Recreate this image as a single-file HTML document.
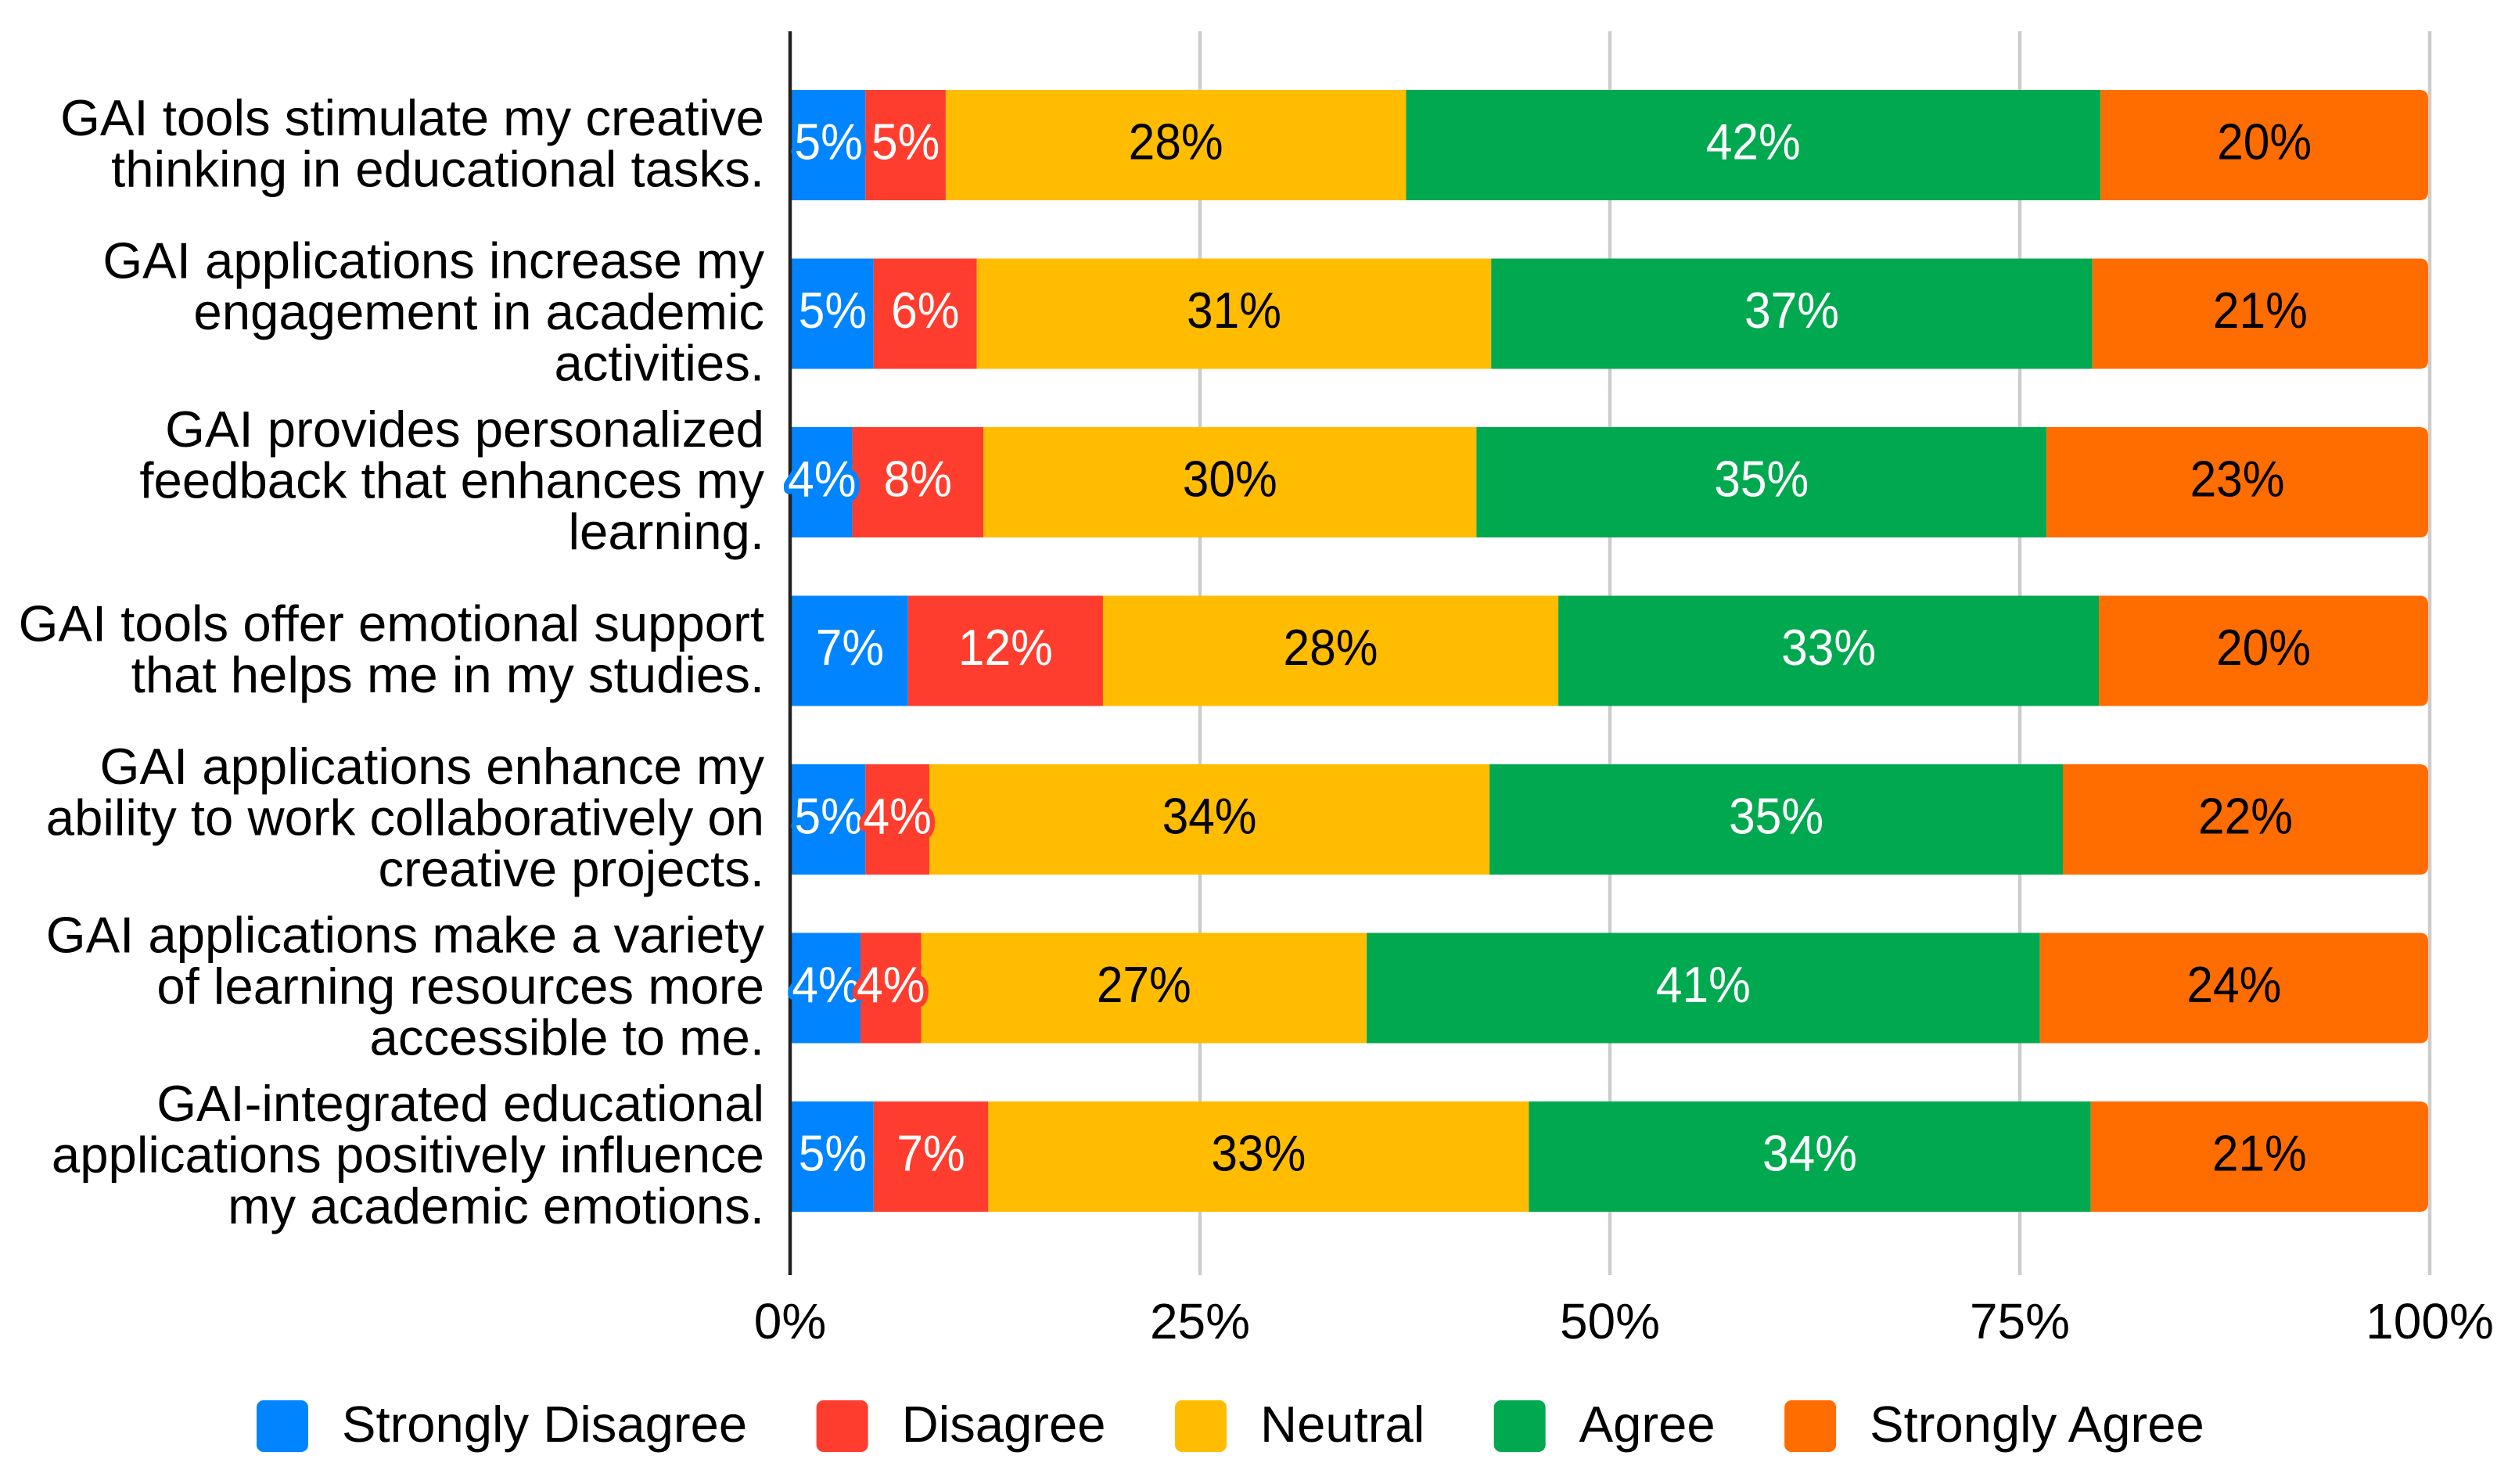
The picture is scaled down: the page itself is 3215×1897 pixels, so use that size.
<!DOCTYPE html>
<html lang="en">
<head>
<meta charset="utf-8">
<title>GAI survey responses</title>
<style>
  html, body { margin: 0; padding: 0; background: #ffffff; }
  #chart { display: block; width: 3215px; height: 1897px; }
  text { font-family: "Liberation Sans", sans-serif; fill: #000; }
</style>
</head>
<body>
<svg id="chart" xmlns="http://www.w3.org/2000/svg" width="3215" height="1897" viewBox="0 0 3215 1897">
  <rect x="0" y="0" width="3215" height="1897" fill="#ffffff"/>
  <g id="grid"></g>
  <g id="bars"></g>
  <line id="axis" x1="1010" x2="1010" y1="40" y2="1630" stroke="#222222" stroke-width="4.5"/>
  <g id="labels"></g>
  <g id="cats"></g>
  <g id="ticks"></g>
  <g id="legend"></g>
</svg>
<script>
const categories = [
  ["GAI tools stimulate my creative", "thinking in educational tasks."],
  ["GAI applications increase my", "engagement in academic", "activities."],
  ["GAI provides personalized", "feedback that enhances my", "learning."],
  ["GAI tools offer emotional support", "that helps me in my studies."],
  ["GAI applications enhance my", "ability to work collaboratively on", "creative projects."],
  ["GAI applications make a variety", "of learning resources more", "accessible to me."],
  ["GAI-integrated educational", "applications positively influence", "my academic emotions."]
];
const seriesNames = ["Strongly Disagree", "Disagree", "Neutral", "Agree", "Strongly Agree"];
const strongDisagree = [4.6, 5.1, 3.8, 7.2, 4.6, 4.3, 5.1];
const disagree = [4.9, 6.3, 8.0, 11.9, 3.9, 3.7, 7.0];
const neutral = [28.1, 31.4, 30.1, 27.8, 34.2, 27.2, 33.0];
const agree = [42.4, 36.7, 34.8, 33.0, 35.0, 41.1, 34.3];
const stronglyAgree = [20.0, 20.5, 23.3, 20.1, 22.3, 23.7, 20.6];
const tickValues = [0, 25, 50, 75, 100];

const seriesValues = [strongDisagree, disagree, neutral, agree, stronglyAgree];
const colors = ["#0084ff", "#ff3d2e", "#ffbc00", "#00a94f", "#ff6d00"];
const labelColors = ["#ffffff", "#ffffff", "#000000", "#ffffff", "#000000"];

const NS = "http://www.w3.org/2000/svg";
const rowTop = 115, rowStep = 215.5, rowHeight = 141;
function gridX(v) { return 1010 + v * 20.96; }
function barX(v) { return Math.max(1012, 1010 + v * 20.94); }
function rowY(i) { return rowTop + i * rowStep; }
function rowCenter(i) { return rowY(i) + rowHeight / 2; }
function slug(s) { return s.toLowerCase().replace(/[^a-z0-9]+/g, "-").replace(/-$/, ""); }

function make(tag, attrs, parent) {
  const el = document.createElementNS(NS, tag);
  for (const k in attrs) el.setAttribute(k, attrs[k]);
  parent.appendChild(el);
  return el;
}

const gridG = document.getElementById("grid");
const barsG = document.getElementById("bars");
const labelsG = document.getElementById("labels");
const catsG = document.getElementById("cats");
const ticksG = document.getElementById("ticks");
const legendG = document.getElementById("legend");

tickValues.forEach(function (t) {
  if (t > 0) {
    const gl = make("line", { x1: gridX(t), x2: gridX(t), y1: 40, y2: 1630, stroke: "#cccccc", "stroke-width": 4.5 }, gridG);
    
    
  }
  const tl = make("text", { x: gridX(t), y: 1711, "font-size": 64, "text-anchor": "middle" }, ticksG);
  tl.textContent = t + "%";
  
  
});

categories.forEach(function (lines, i) {
  let cum = 0;
  seriesValues.forEach(function (vals, s) {
    const x0 = barX(cum);
    const x1 = barX(cum + vals[i]);
    cum += vals[i];
    const y = rowY(i);
    let mark;
    if (s === seriesValues.length - 1) {
      const r = 11;
      mark = make("path", {
        d: "M" + x0 + " " + y + "H" + (x1 - r) + "Q" + x1 + " " + y + " " + x1 + " " + (y + r) +
           "V" + (y + rowHeight - r) + "Q" + x1 + " " + (y + rowHeight) + " " + (x1 - r) + " " + (y + rowHeight) +
           "H" + x0 + "Z",
        fill: colors[s]
      }, barsG);
    } else {
      mark = make("rect", { x: x0, y: y, width: x1 - x0, height: rowHeight, fill: colors[s] }, barsG);
    }
    
    

    const cx = (x0 + x1) / 2;
    const cy = rowCenter(i) + 18;
    const lab = make("text", {
      transform: "translate(" + cx + " " + cy + ") scale(0.93 1)",
      "font-size": 65,
      "text-anchor": "middle",
      stroke: colors[s],
      "stroke-width": 14,
      "stroke-linejoin": "round",
      "paint-order": "stroke",
      style: "fill:" + labelColors[s]
    }, labelsG);
    lab.textContent = Math.round(vals[i]) + "%";
    
    
  });

  lines.forEach(function (line, j) {
    const base = rowCenter(i) + 20 + (j - (lines.length - 1) / 2) * 65.5;
    const t = make("text", { x: 977, y: base, "font-size": 65.3, "text-anchor": "end" }, catsG);
    t.textContent = line;
    
    
  });
});

let legendX = 328;
seriesNames.forEach(function (name, s) {
  const sw = make("rect", { x: legendX, y: 1790, width: 66, height: 66, rx: 9, fill: colors[s] }, legendG);
  
  
  const t = make("text", { x: legendX + 109, y: 1843, "font-size": 65.2 }, legendG);
  t.textContent = name;
  
  
  legendX += 109 + t.getComputedTextLength() + 88.5;
});
</script>
</body>
</html>
